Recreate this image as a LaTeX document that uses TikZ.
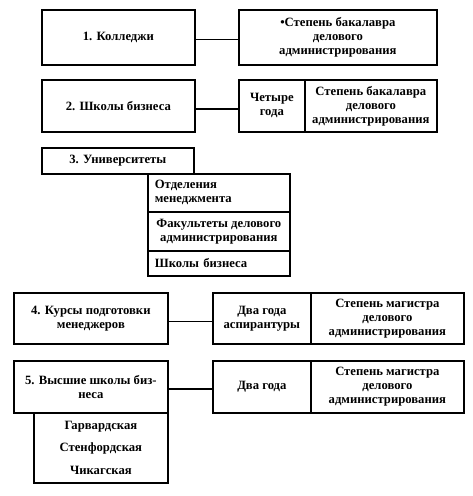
\documentclass[tikz,border=0pt]{standalone}
\usepackage{fontspec}
\setmainfont{Liberation Serif}
\usetikzlibrary{calc}
\newdimen\px \px=0.75pt
\tikzset{every picture/.style={line width=0.75pt}}
\tikzset{box/.style={draw, line width=1.3pt, anchor=north west, inner sep=0pt, align=center, font=\fontsize{9.5}{10.5}\selectfont\bfseries}}
\tikzset{boxleft/.style={box, align=left, inner xsep=7\px}}
\begin{document}
\begin{tikzpicture}[x=0.75pt,y=0.75pt,yscale=-1,xscale=1]
    \useasboundingbox (0,0) rectangle (472,496);
    
    %Shape: Rectangle [id:kol] 
    \node [box, minimum width=153\px, minimum height=55\px] (kol) at (41,9) {1. Колледжи};
    %Shape: Rectangle [id:bak1] 
    \node [box, minimum width=198\px, minimum height=55\px] (bak1) at (238,9) {\textbullet Степень бакалавра\\делового\\администрирования};
    %Straight Lines [id:kolbak] 
    \draw [line width=1.1pt] ($(kol.east)+(0,2)$) -- ($(bak1.west)+(0,2)$) ;
    
    %Shape: Rectangle [id:shk] 
    \node [box, minimum width=153\px, minimum height=52\px] (shk) at (41,79) {2. Школы бизнеса};
    %Shape: Rectangle [id:four] 
    \node [box, minimum width=66\px, minimum height=52\px, text depth=4\px] (four) at (238,79) {Четыре\\года};
    %Shape: Rectangle [id:bak2] 
    \node [box, minimum width=132\px, minimum height=52\px] (bak2) at (304,79) {Степень бакалавра\\делового\\администрирования};
    %Straight Lines [id:shkfour] 
    \draw [line width=1.1pt] ($(shk.east)+(0,3)$) -- ($(four.west)+(0,3)$) ;
    
    %Shape: Rectangle [id:uni] 
    \node [box, minimum width=152\px, minimum height=26\px] (uni) at (41,147) {3. Университеты};
    %Shape: Rectangle [id:otd] 
    \node [boxleft, text width=128\px, minimum height=38\px] (otd) at (147,173) {Отделения\\менеджмента};
    %Shape: Rectangle [id:fak] 
    \node [box, minimum width=142\px, minimum height=39\px] (fak) at (147,211) {Факультеты делового\\администрирования};
    %Shape: Rectangle [id:shkb] 
    \node [boxleft, text width=128\px, minimum height=25\px] (shkb) at (147,250) {Школы бизнеса};
    
    %Shape: Rectangle [id:kurs] 
    \node [box, minimum width=154\px, minimum height=51\px] (kurs) at (13,292) {4. Курсы подготовки\\менеджеров};
    %Shape: Rectangle [id:dva1] 
    \node [box, minimum width=98\px, minimum height=51\px] (dva1) at (212,292) {Два года\\аспирантуры};
    %Shape: Rectangle [id:mag1] 
    \node [box, minimum width=153\px, minimum height=51\px] (mag1) at (310,292) {Степень магистра\\делового\\администрирования};
    %Straight Lines [id:kursdva] 
    \draw [line width=1.1pt] ($(kurs.east)+(0,3)$) -- ($(dva1.west)+(0,3)$) ;
    
    %Shape: Rectangle [id:vys] 
    \node [box, minimum width=154\px, minimum height=52\px] (vys) at (13,360) {5. Высшие школы биз-\\неса};
    %Shape: Rectangle [id:dva2] 
    \node [box, minimum width=98\px, minimum height=52\px] (dva2) at (212,360) {Два года};
    %Shape: Rectangle [id:mag2] 
    \node [box, minimum width=153\px, minimum height=52\px] (mag2) at (310,360) {Степень магистра\\делового\\администрирования};
    %Straight Lines [id:vysdva] 
    \draw [line width=1.1pt] ($(vys.east)+(0,2)$) -- ($(dva2.west)+(0,2)$) ;
    %Shape: Rectangle [id:list] 
    \node [box, minimum width=134\px, minimum height=70\px, font=\fontsize{9.5}{17}\selectfont\bfseries] (list) at (33,412) {Гарвардская\\Стенфордская\\Чикагская};
    
\end{tikzpicture}
\end{document}
